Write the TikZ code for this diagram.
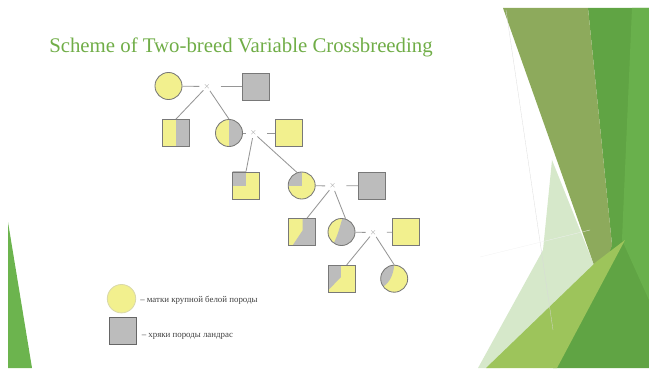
\documentclass[tikz,border=0pt]{standalone}
\usepackage{fontspec}
\setmainfont{Liberation Serif}
\usetikzlibrary{positioning}
\definecolor{eweyellow}{RGB}{242,240,142}
\definecolor{boargray}{RGB}{188,188,188}
\definecolor{edgegray}{RGB}{120,120,120}
\definecolor{linkgray}{RGB}{150,150,150}
\definecolor{titlegreen}{RGB}{112,173,71}
\definecolor{olivegreen}{RGB}{141,170,92}
\definecolor{deepgreen}{RGB}{96,164,68}
\definecolor{brightgreen}{RGB}{108,180,78}
\definecolor{limegreen}{RGB}{157,196,91}
\definecolor{palegreen}{RGB}{196,222,180}
\tikzset{
  ewe/.style={circle, draw=edgegray, fill=eweyellow, line width=0.6pt,
    minimum size=0.675cm, inner sep=0pt},
  boar/.style={rectangle, draw=edgegray, fill=eweyellow, line width=0.6pt,
    minimum size=0.675cm, inner sep=0pt},
  share/.style={path picture={
    \fill[boargray, shift={(path picture bounding box.center)}] #1;}},
  cross/.style={circle, inner sep=0pt, minimum size=0.25cm,
    text=linkgray, font=\fontsize{5}{5}\selectfont},
  link/.style={draw=linkgray, line width=0.6pt},
  legendtext/.style={anchor=west, inner sep=0pt, text=black!75,
    font=\fontsize{6.3}{7}\selectfont}
}

\begin{document}
\begin{tikzpicture}[x=0.025cm, y=-0.025cm]
    \useasboundingbox (0,0) rectangle (649,374);
    % slide background
    \fill[deepgreen] (588,8) -- (649,8) -- (649,368) -- (553,368) -- (612,245) -- cycle;
    \fill[brightgreen, opacity=0.8] (632,8) -- (649,8) -- (649,300) -- (622,240) -- cycle;
    \fill[palegreen, opacity=0.7] (552,160) -- (600,280) -- (500,368) -- (478,368) -- (543,250) -- cycle;
    \fill[olivegreen] (503,8) -- (588,8) -- (612,245) -- (600,282) -- cycle;
    \fill[limegreen] (486,368) -- (557,368) -- (625,240) -- (596,262) -- cycle;
    \draw[very thin, black!15] (506,10) -- (553,330);
    \draw[very thin, black!6] (480,257) -- (590,230);
    \fill[brightgreen] (8,222) -- (8,368) -- (32,368) -- cycle;
    % title
    \node[anchor=base west, inner sep=0pt, text=titlegreen,
      font=\fontsize{14.8}{16}\selectfont] (title) at (49,53)
      {Scheme of Two-breed Variable Crossbreeding};
    % first cross
    \node[ewe] (e1) at (168.5,86) {};
    \node[cross] (x1) at (207,86.5) {$\times$};
    \node[boar, fill=boargray] (m1) at (255.5,86.5) {};
    \node[boar, share={(0,-15) rectangle (15,15)}] (o1s) at (176,133) {};
    \node[ewe, share={(0,-15) rectangle (15,15)}] (o1c) at (229,133) {};
    % second cross
    \node[cross] (x2) at (253.5,133) {$\times$};
    \node[boar] (m2) at (288.5,133) {};
    \node[boar, share={(-15,-15) rectangle (0,0)}] (o2s) at (246,185.5) {};
    \node[ewe, share={(-15,-15) rectangle (0,0)}] (o2c) at (301.7,185.5) {};
    % third cross
    \node[cross] (x3) at (332.7,186) {$\times$};
    \node[boar, fill=boargray] (m3) at (372,185.5) {};
    \node[boar, share={(0.5,-15) -- (15,-15) -- (15,15) -- (-9.5,15) -- (-9.5,13.5) -- (0.5,-1.5) -- cycle}] (o3s) at (302,232) {};
    \node[ewe, share={(1,-15) -- (1,-14) .. controls (-2,-4) and (-4,4) .. (-8,11.5) -- (-10,15) -- (15,15) -- (15,-15) -- cycle}] (o3c) at (341.5,232) {};
    % fourth cross
    \node[cross] (x4) at (373.3,232.5) {$\times$};
    \node[boar] (m4) at (406,232) {};
    \node[boar, share={(-15,-15) -- (-0.8,-15) -- (-0.8,-1.5) -- (-15,13) -- cycle}] (o4s) at (341.7,278.7) {};
    \node[ewe, share={(0,-15) -- (0,-13.5) .. controls (-1,-4) and (-4,3) .. (-11,8) -- (-15,9) -- (-15,-15) -- cycle}] (o4c) at (394.2,278.7) {};
    % connectors
    \draw[link, shorten >=0.06cm] (e1) -- (x1);
    \draw[link, shorten <=0.21cm] (x1) -- (m1);
    \draw[link] (x1) -- (o1s.north);
    \draw[link] (x1) -- (o1c.north);
    \draw[link, shorten >=0.06cm] (o1c) -- (x2);
    \draw[link, shorten <=0.21cm] (x2) -- (m2);
    \draw[link] (x2) -- (o2s.north);
    \draw[link] (x2) -- (o2c.110);
    \draw[link, shorten >=0.06cm] (o2c) -- (x3);
    \draw[link, shorten <=0.21cm] (x3) -- (m3);
    \draw[link] (x3) -- (o3s.70);
    \draw[link] (x3) -- (o3c.73);
    \draw[link, shorten >=0.06cm] (o3c) -- (x4);
    \draw[link, shorten <=0.21cm] (x4) -- (m4);
    \draw[link] (x4) -- (o4s.70);
    \draw[link] (x4) -- (o4c.north);
    % legend
    \node[ewe, draw=eweyellow!80!black!60, minimum size=0.71cm] (lege) at (121.5,298.7) {};
    \node[legendtext] (lete) at (140,300) {– матки крупной белой породы};
    \node[boar, fill=boargray, draw=black!60, line width=0.8pt] (legb) at (122.7,331.3) {};
    \node[legendtext] (letb) at (141.5,336.5) {– хряки породы ландрас};
\end{tikzpicture}
\end{document}
